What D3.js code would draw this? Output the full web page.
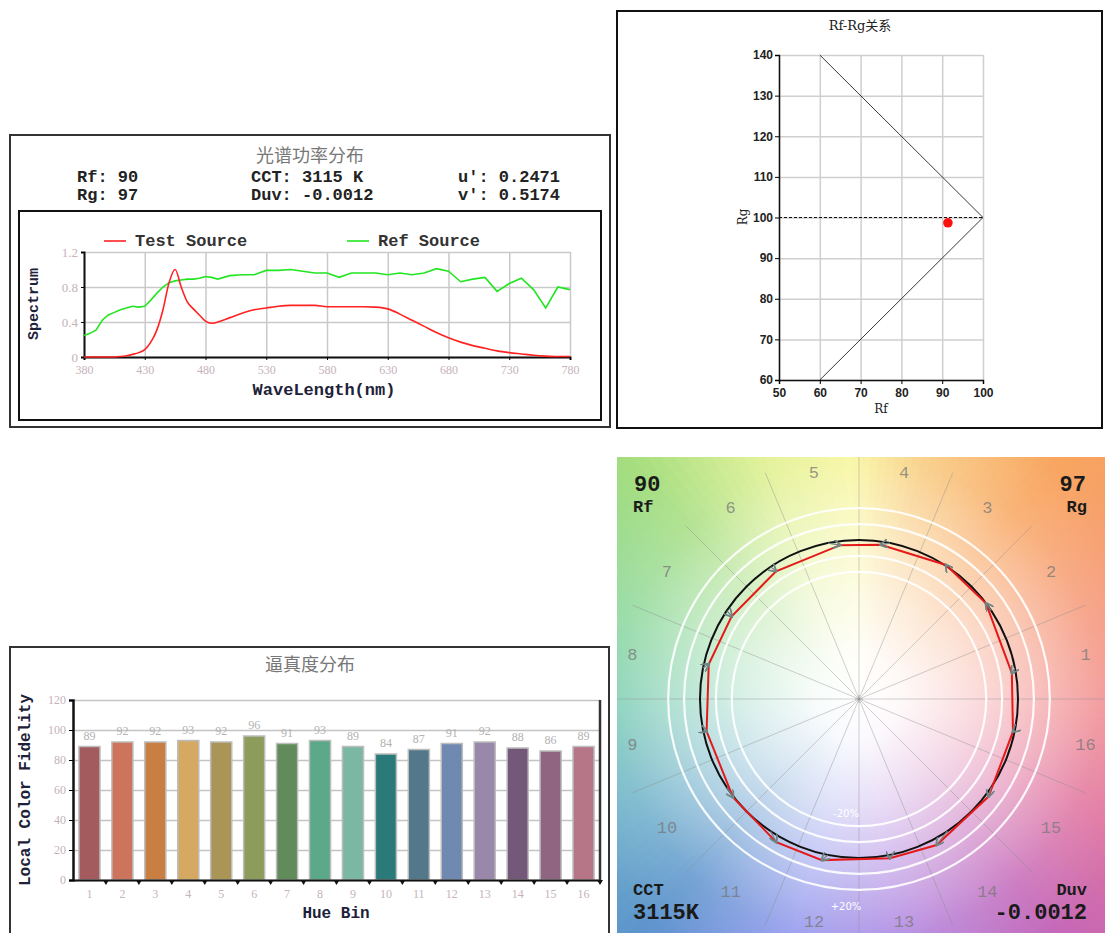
<!DOCTYPE html>
<html>
<head>
<meta charset="utf-8">
<title>Spectrum report</title>
<script src="https://cdn.jsdelivr.net/npm/d3@7/dist/d3.min.js"></script>
<style>
  body { margin: 0; background: #fff; }
</style>
</head>
<body>
<script>
// ---- data ----
var wavelengths = [380,385,390,395,400,405,410,415,420,425,430,435,440,445,450,455,460,465,470,475,480,485,490,500,510,520,530,540,550,560,570,580,590,600,610,620,630,640,650,660,670,680,690,700,710,720,730,740,750,760,770,780]
var testSpd = [0,0,0,0,0,0,0.005,0.015,0.03,0.05,0.085,0.17,0.31,0.54,0.85,1.0,0.8,0.63,0.55,0.48,0.41,0.385,0.4,0.45,0.5,0.54,0.56,0.58,0.59,0.59,0.59,0.575,0.575,0.575,0.575,0.57,0.55,0.49,0.42,0.35,0.28,0.22,0.17,0.13,0.1,0.07,0.05,0.035,0.02,0.01,0.005,0.005]
var refSpd = [0.245,0.27,0.31,0.42,0.48,0.51,0.54,0.56,0.58,0.57,0.58,0.65,0.73,0.8,0.85,0.87,0.88,0.89,0.89,0.9,0.92,0.91,0.89,0.93,0.94,0.94,0.99,0.99,1.0,0.98,0.96,0.96,0.91,0.96,0.96,0.96,0.94,0.96,0.94,0.96,1.01,0.98,0.86,0.89,0.91,0.75,0.84,0.9,0.77,0.56,0.8,0.77]
var spdTicksX = [380,430,480,530,580,630,680,730,780]
var spdTicksY = [0,0.4,0.8,1.2]

var hueBins = ["1","2","3","4","5","6","7","8","9","10","11","12","13","14","15","16"]
var fidelity = [89,92,92,93,92,96,91,93,89,84,87,91,92,88,86,89]
var binColors = ["#a35b5e","#cc745c","#ca7f42","#d6a962","#a99556","#8e9c5b","#628b5b","#5ca98a","#7bb8a4","#2b7a7a","#52788a","#6f89b0","#9a88aa","#73587a","#8f6581","#b67687"]
var fidelityTicks = [0,20,40,60,80,100,120]

var rfRgTicksX = [50,60,70,80,90,100]
var rfRgTicksY = [60,70,80,90,100,110,120,130,140]
var gamutBound = [[60,140],[100,100],[60,60]]
var sample = {rf: 91.4, rg: 98.7}

// colour vector graphic: test vertex hue angle (deg) and radius relative to reference circle
var vecAngle = [9.6,37,57,82,97,123,147,167,192,218,240,257,281,298,323,348]
var vecRatio = [0.975,1.0,1.005,0.98,0.975,0.958,0.955,0.97,0.98,1.005,1.04,1.04,1.02,1.04,1.02,0.99]

var stats = {rf: "90", rg: "97", cct: "3115 K", duv: "-0.0012", u: "0.2471", v: "0.5174"}

var mono = "'Liberation Mono','Courier New',monospace"
var serif = "'Liberation Serif','Times New Roman',serif"
var cjk = "'Noto Sans CJK SC',sans-serif"

var svg = d3.select("body").append("svg")
  .attr("width", 1105)
  .attr("height", 933)

function frame(x, y, w, h, col) {
  svg.append("rect").attr("x", x).attr("y", y).attr("width", w).attr("height", h)
    .attr("fill", "none").attr("stroke", col || "#222").attr("stroke-width", 2)
}

function styleTicks(sel, size, col) {
  sel.selectAll("text").attr("font-family", serif).attr("font-size", size).attr("fill", col)
}

// =============== spectrum panel ===============
frame(10, 135, 600, 292, "#333")
frame(19, 211, 582, 209, "#111")

svg.append("text").attr("x", 310).attr("y", 162).attr("text-anchor", "middle")
  .attr("font-family", cjk).attr("font-size", 18).attr("fill", "#777").text("光谱功率分布")

var statRows = [
  [["Rf: " + stats.rf, 77], ["CCT: " + stats.cct, 251], ["u': " + stats.u, 458]],
  [["Rg: " + stats.rg, 77], ["Duv: " + stats.duv, 251], ["v': " + stats.v, 458]]
]
statRows.forEach(function(row, r) {
  row.forEach(function(c) {
    svg.append("text").attr("x", c[1]).attr("y", 182 + r * 18)
      .attr("font-family", mono).attr("font-weight", "bold").attr("font-size", 17)
      .attr("fill", "#222").attr("xml:space", "preserve").text(c[0])
  })
})

var sx = d3.scaleLinear().domain([380, 780]).range([84, 570])
var sy = d3.scaleLinear().domain([0, 1.2]).range([357, 252])

// grid
svg.append("g").attr("transform", "translate(0,357)")
  .call(d3.axisBottom(sx).tickValues(spdTicksX).tickSize(-105).tickFormat(""))
  .call(function(g) { g.select(".domain").remove() })
  .selectAll("line").attr("stroke", "#c9c9c9").attr("stroke-width", 1.5)
svg.append("g").attr("transform", "translate(84,0)")
  .call(d3.axisLeft(sy).tickValues(spdTicksY).tickSize(-486).tickFormat(""))
  .call(function(g) { g.select(".domain").remove() })
  .selectAll("line").attr("stroke", "#c9c9c9").attr("stroke-width", 1.5)

// axes
var sxAxis = svg.append("g").attr("transform", "translate(0,357)")
  .call(d3.axisBottom(sx).tickValues(spdTicksX).tickSize(3).tickPadding(5))
sxAxis.select(".domain").attr("stroke", "#111").attr("stroke-width", 2)
styleTicks(sxAxis, 12, "#c6b2ba")
var syAxis = svg.append("g").attr("transform", "translate(84,0)")
  .call(d3.axisLeft(sy).tickValues(spdTicksY).tickSize(3).tickPadding(3).tickFormat(d3.format("~g")))
syAxis.select(".domain").attr("stroke", "#111").attr("stroke-width", 2)
styleTicks(syAxis, 13, "#c6b2ba")

var testLine = d3.line().x(function(d, i) { return sx(wavelengths[i]) }).y(function(d) { return sy(d) }).curve(d3.curveMonotoneX)
var refLine = d3.line().x(function(d, i) { return sx(wavelengths[i]) }).y(function(d) { return sy(d) })

svg.append("path").attr("d", refLine(refSpd)).attr("fill", "none").attr("stroke", "#22e622").attr("stroke-width", 1.6)
svg.append("path").attr("d", testLine(testSpd)).attr("fill", "none").attr("stroke", "#ff2222").attr("stroke-width", 1.6)

// legend
var legend = [["Test Source", "#ff2222", 104], ["Ref Source", "#22e622", 347]]
legend.forEach(function(l) {
  svg.append("line").attr("x1", l[2]).attr("x2", l[2] + 22).attr("y1", 241).attr("y2", 241)
    .attr("stroke", l[1]).attr("stroke-width", 1.6)
  svg.append("text").attr("x", l[2] + 31).attr("y", 246).attr("font-family", mono)
    .attr("font-weight", "bold").attr("font-size", 17).attr("fill", "#333").text(l[0])
})

svg.append("text").attr("x", 324).attr("y", 395).attr("text-anchor", "middle")
  .attr("font-family", mono).attr("font-weight", "bold").attr("font-size", 17).attr("fill", "#1d2238").text("WaveLength(nm)")
svg.append("text").attr("transform", "translate(38,304) rotate(-90)").attr("text-anchor", "middle")
  .attr("font-family", mono).attr("font-weight", "bold").attr("font-size", 15).attr("fill", "#1d2238").text("Spectrum")

// =============== Rf-Rg panel ===============
frame(617, 11, 485, 417, "#111")
svg.append("text").attr("x", 860).attr("y", 30).attr("text-anchor", "middle")
  .attr("font-family", "'DejaVu Serif','Noto Sans CJK SC',serif").attr("font-size", 13).attr("fill", "#222").text("Rf-Rg关系")

var rx = d3.scaleLinear().domain([50, 100]).range([779, 983])
var ry = d3.scaleLinear().domain([60, 140]).range([380, 55])

svg.append("g").attr("transform", "translate(0,380)")
  .call(d3.axisBottom(rx).tickValues(rfRgTicksX).tickSize(-325).tickFormat(""))
  .call(function(g) { g.select(".domain").remove() })
  .selectAll("line").attr("stroke", "#cfcfcf").attr("stroke-width", 1.5)
svg.append("g").attr("transform", "translate(779,0)")
  .call(d3.axisLeft(ry).tickValues(rfRgTicksY).tickSize(-204).tickFormat(""))
  .call(function(g) { g.select(".domain").remove() })
  .selectAll("line").attr("stroke", "#cfcfcf").attr("stroke-width", 1.5)

var rxAxis = svg.append("g").attr("transform", "translate(0,380)")
  .call(d3.axisBottom(rx).tickValues(rfRgTicksX).tickSize(4).tickPadding(4))
var ryAxis = svg.append("g").attr("transform", "translate(779,0)")
  .call(d3.axisLeft(ry).tickValues(rfRgTicksY).tickSize(4).tickPadding(2))
;[rxAxis, ryAxis].forEach(function(a) {
  a.select(".domain").attr("stroke", "#111").attr("stroke-width", 1.5)
  a.selectAll("text").attr("font-family", "'Liberation Sans',Arial,sans-serif").attr("font-weight", "bold")
    .attr("font-size", 12).attr("fill", "#222")
})

svg.append("path").attr("d", d3.line().x(function(d) { return rx(d[0]) }).y(function(d) { return ry(d[1]) })(gamutBound))
  .attr("fill", "none").attr("stroke", "#222").attr("stroke-width", 0.9)
svg.append("line").attr("x1", rx(50)).attr("x2", rx(100)).attr("y1", ry(100)).attr("y2", ry(100))
  .attr("stroke", "#111").attr("stroke-width", 1).attr("stroke-dasharray", "3,2")
svg.append("circle").attr("cx", rx(sample.rf)).attr("cy", ry(sample.rg)).attr("r", 4.8).attr("fill", "#ff1010")

svg.append("text").attr("x", 881).attr("y", 413).attr("text-anchor", "middle")
  .attr("font-family", "'DejaVu Serif',serif").attr("font-size", 12).attr("fill", "#222").text("Rf")
svg.append("text").attr("transform", "translate(747,217) rotate(-90)").attr("text-anchor", "middle")
  .attr("font-family", "'DejaVu Serif',serif").attr("font-size", 12).attr("fill", "#222").text("Rg")

// =============== fidelity bar panel ===============
frame(10, 647, 599, 300, "#333")
svg.append("text").attr("x", 310).attr("y", 671).attr("text-anchor", "middle")
  .attr("font-family", cjk).attr("font-size", 18).attr("fill", "#777").text("逼真度分布")

var bx = d3.scaleBand().domain(hueBins).range([73, 600]).paddingInner(0.36).paddingOuter(0.18)
var by = d3.scaleLinear().domain([0, 120]).range([880, 700])

svg.append("g").attr("transform", "translate(73,0)")
  .call(d3.axisLeft(by).tickValues(fidelityTicks).tickSize(-527).tickFormat(""))
  .call(function(g) { g.select(".domain").remove() })
  .selectAll("line").attr("stroke", "#c4c4c4").attr("stroke-width", 1.5)

svg.selectAll(".bar").data(fidelity).enter().append("rect")
  .attr("class", "bar")
  .attr("x", function(d, i) { return bx(hueBins[i]) })
  .attr("y", function(d) { return by(d) })
  .attr("width", bx.bandwidth())
  .attr("height", function(d) { return by(0) - by(d) })
  .attr("fill", function(d, i) { return binColors[i] })
  .attr("stroke", "#bdbdbd").attr("stroke-width", 1.5)

svg.selectAll(".val").data(fidelity).enter().append("text")
  .attr("class", "val")
  .attr("x", function(d, i) { return bx(hueBins[i]) + bx.bandwidth() / 2 })
  .attr("y", function(d) { return by(d) - 7 })
  .attr("text-anchor", "middle").attr("font-family", serif).attr("font-size", 12).attr("fill", "#b2b2b2")
  .text(function(d) { return d })

var byAxis = svg.append("g").attr("transform", "translate(73,0)")
  .call(d3.axisLeft(by).tickValues(fidelityTicks).tickSize(4).tickPadding(3))
byAxis.select(".domain").attr("stroke", "#111").attr("stroke-width", 2.5)
styleTicks(byAxis, 12, "#c6b2ba")

var bxAxis = svg.append("g").attr("transform", "translate(0,880)")
  .call(d3.axisBottom(bx).tickSize(0).tickPadding(9))
bxAxis.select(".domain").attr("stroke", "#111").attr("stroke-width", 2)
styleTicks(bxAxis, 12, "#c6b2ba")

// right frame line and band-edge marks
svg.append("line").attr("x1", 600).attr("x2", 600).attr("y1", 700).attr("y2", 881)
  .attr("stroke", "#333").attr("stroke-width", 2.5)
var edges = hueBins.map(function(b) { return bx(b) - bx.step() * bx.paddingInner() / 2 })
edges.push(600)
svg.selectAll(".edge").data(edges.slice(1)).enter().append("path")
  .attr("class", "edge")
  .attr("d", function(x) { return "M" + (x - 3) + ",880L" + (x + 3) + ",880L" + x + ",885Z" })
  .attr("fill", "#111")

svg.append("text").attr("transform", "translate(30,790) rotate(-90)").attr("text-anchor", "middle")
  .attr("font-family", mono).attr("font-weight", "bold").attr("font-size", 16).attr("fill", "#1d2238").text("Local Color Fidelity")
svg.append("text").attr("x", 336).attr("y", 918).attr("text-anchor", "middle")
  .attr("font-family", mono).attr("font-weight", "bold").attr("font-size", 16).attr("fill", "#1d2238").text("Hue Bin")

// =============== colour vector graphic ===============
var cx = 859, cy = 699, R0 = 159
var defs = svg.append("defs")
defs.append("clipPath").attr("id", "cvgClip").append("rect")
  .attr("x", 617).attr("y", 457).attr("width", 488).attr("height", 476)

var hueStops = [0, 30, 50, 75, 92, 112, 135, 160, 182, 205, 228, 255, 280, 310, 335, 360]
var hueCols = ["#f28c8c","#f6996e","#f8a35c","#f8c878","#f8f597","#dff08c","#a4dd7e","#8cd79a","#7ccdb4","#6cb0c8","#5a92cc","#8c92ec","#a87ee0","#c264b8","#e0709c","#f28c8c"]
var hueScale = d3.scaleLinear().domain(hueStops).range(hueCols).interpolate(d3.interpolateRgb)

var cvg = svg.append("g").attr("clip-path", "url(#cvgClip)")
var wedge = d3.arc().innerRadius(0).outerRadius(420)
cvg.selectAll(".wedge").data(d3.range(0, 360, 2)).enter().append("path")
  .attr("class", "wedge")
  .attr("transform", "translate(" + cx + "," + cy + ")")
  .attr("d", function(a) {
    return wedge({startAngle: (90 - a - 2.6) * Math.PI / 180, endAngle: (90 - a + 0.6) * Math.PI / 180})
  })
  .attr("fill", function(a) { return hueScale(a + 1) })

var rg = defs.append("radialGradient").attr("id", "whiteCore")
  .attr("gradientUnits", "userSpaceOnUse").attr("cx", cx).attr("cy", cy).attr("r", 345)
var fade = [[0, 1], [0.12, 0.95], [0.3, 0.75], [0.5, 0.48], [0.7, 0.17], [0.88, 0.03], [1, 0]]
fade.forEach(function(f) {
  rg.append("stop").attr("offset", f[0]).attr("stop-color", "#fff").attr("stop-opacity", f[1])
})
cvg.append("rect").attr("x", 617).attr("y", 457).attr("width", 488).attr("height", 476).attr("fill", "url(#whiteCore)")

// spokes at bin boundaries
cvg.selectAll(".spoke").data(d3.range(16)).enter().append("line")
  .attr("class", "spoke")
  .attr("x1", cx).attr("y1", cy)
  .attr("x2", function(k) { return cx + 245 * Math.cos(k * 22.5 * Math.PI / 180) })
  .attr("y2", function(k) { return cy - 245 * Math.sin(k * 22.5 * Math.PI / 180) })
  .attr("stroke", "#8a8a8a").attr("stroke-opacity", 0.45).attr("stroke-width", 0.9)

// percentage rings
cvg.selectAll(".ring").data([0.8, 0.9, 1.1, 1.2]).enter().append("circle")
  .attr("class", "ring")
  .attr("cx", cx).attr("cy", cy).attr("r", function(f) { return R0 * f })
  .attr("fill", "none").attr("stroke", "#fff").attr("stroke-opacity", 0.9).attr("stroke-width", 2.2)

cvg.append("path").attr("d", "M" + (cx - 4) + "," + cy + "h8M" + cx + "," + (cy - 4) + "v8")
  .attr("stroke", "#999").attr("stroke-width", 0.8)

cvg.selectAll(".binlab").data(hueBins).enter().append("text")
  .attr("class", "binlab")
  .attr("x", function(b, i) { return cx + 231 * Math.cos((i + 0.5) * 22.5 * Math.PI / 180) })
  .attr("y", function(b, i) { return Math.min(cy - 231 * Math.sin((i + 0.5) * 22.5 * Math.PI / 180) + 6, 927) })
  .attr("text-anchor", "middle").attr("font-family", mono).attr("font-size", 17)
  .attr("fill", "#777").attr("fill-opacity", 0.75).text(function(b) { return b })

cvg.append("text").attr("x", 846).attr("y", 817).attr("text-anchor", "middle")
  .attr("font-family", "'DejaVu Sans',sans-serif").attr("font-size", 10).attr("fill", "#fff").text("-20%")
cvg.append("text").attr("x", 846).attr("y", 910).attr("text-anchor", "middle")
  .attr("font-family", "'DejaVu Sans',sans-serif").attr("font-size", 10).attr("fill", "#fff").text("+20%")

// reference circle and test polygon
cvg.append("circle").attr("cx", cx).attr("cy", cy).attr("r", R0)
  .attr("fill", "none").attr("stroke", "#111").attr("stroke-width", 2)

var testPts = vecAngle.map(function(a, i) {
  var t = a * Math.PI / 180
  return [cx + R0 * vecRatio[i] * Math.cos(t), cy - R0 * vecRatio[i] * Math.sin(t)]
})
cvg.append("path").attr("d", d3.line()(testPts) + "Z")
  .attr("fill", "none").attr("stroke", "#e41a1a").attr("stroke-width", 2)

// small arrows from reference to test points
defs.append("marker").attr("id", "arr").attr("viewBox", "0 0 10 10").attr("refX", 8).attr("refY", 5)
  .attr("markerWidth", 9).attr("markerHeight", 9).attr("markerUnits", "userSpaceOnUse").attr("orient", "auto")
  .append("path").attr("d", "M0,0L9,5L0,10").attr("fill", "none").attr("stroke", "#6f8585").attr("stroke-width", 2)
cvg.selectAll(".arrow").data(testPts).enter().append("line")
  .attr("class", "arrow")
  .attr("x1", function(p, i) { return cx + R0 * Math.cos((i + 0.5) * 22.5 * Math.PI / 180) })
  .attr("y1", function(p, i) { return cy - R0 * Math.sin((i + 0.5) * 22.5 * Math.PI / 180) })
  .attr("x2", function(p) { return p[0] }).attr("y2", function(p) { return p[1] })
  .attr("stroke", "#6f8585").attr("stroke-width", 1.2).attr("marker-end", "url(#arr)")

// corner readouts
var corners = [
  [stats.rf, 634, 491, "start", 22], ["Rf", 633, 512, "start", 17],
  [stats.rg, 1086, 491, "end", 22], ["Rg", 1087, 512, "end", 17],
  ["CCT", 633, 895, "start", 17], [stats.cct.replace(" ", ""), 633, 919, "start", 22],
  ["Duv", 1087, 895, "end", 17], [stats.duv, 1087, 919, "end", 22]
]
corners.forEach(function(c) {
  cvg.append("text").attr("x", c[1]).attr("y", c[2]).attr("text-anchor", c[3])
    .attr("font-family", mono).attr("font-weight", "bold").attr("font-size", c[4])
    .attr("fill", "#1a1a1a").text(c[0])
})
</script>
</body>
</html>
